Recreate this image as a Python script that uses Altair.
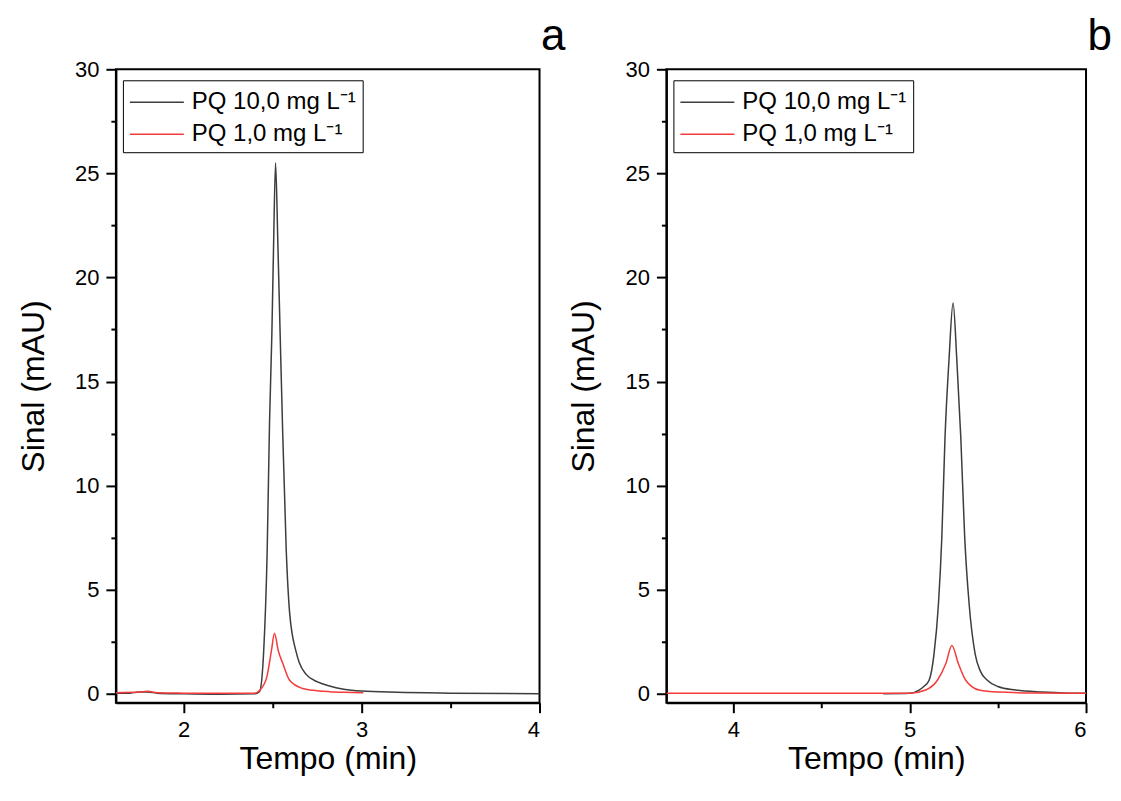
import altair as alt
import pandas as pd

series_names = ["PQ 10,0 mg L⁻¹", "PQ 1,0 mg L⁻¹"]
series_colors = ["#3d3d3d", "#f53b3b"]

# Panel a
a_black_t = [1.62, 1.70, 1.75, 1.80, 1.85, 2.00, 2.20, 2.40, 2.427, 2.45, 2.47, 2.483, 2.496, 2.506, 2.517,
             2.530, 2.543, 2.556, 2.577, 2.596, 2.633, 2.65, 2.69, 2.75, 2.82, 2.90, 3.00, 3.20, 3.50, 4.00]
a_black_s = [0.02, 0.03, 0.08, 0.08, 0.03, 0.00, -0.02, 0.00, 0.10, 2.0, 6.9, 13.0, 17.2, 21.6, 25.5,
             21.6, 17.2, 12.9, 6.9, 3.9, 2.0, 1.5, 0.92, 0.58, 0.37, 0.22, 0.13, 0.07, 0.03, 0.00]
a_red_t = [1.62, 1.75, 1.80, 1.85, 2.00, 2.20, 2.40, 2.43, 2.468, 2.494, 2.511, 2.532, 2.558, 2.596,
           2.67, 2.725, 2.82, 2.90, 3.01]
a_red_s = [0.05, 0.08, 0.12, 0.05, 0.03, 0.02, 0.02, 0.18, 0.81, 2.08, 2.91, 2.08, 1.45, 0.65,
           0.25, 0.17, 0.10, 0.07, 0.05]

# Panel b
b_black_t = [4.85, 5.00, 5.053, 5.08, 5.11, 5.138, 5.163, 5.182, 5.20, 5.223, 5.246, 5.267, 5.29, 5.312,
             5.337, 5.371, 5.40, 5.44, 5.50, 5.60, 5.75, 5.90, 6.00]
b_black_s = [0.00, 0.02, 0.18, 0.35, 0.65, 1.92, 4.31, 7.49, 12.26, 16.07, 18.77, 16.07, 12.26, 7.49,
             4.31, 1.92, 1.10, 0.65, 0.35, 0.18, 0.08, 0.03, 0.02]
b_red_t = [3.62, 4.00, 4.50, 5.00, 5.09, 5.157, 5.205, 5.239, 5.276, 5.318, 5.394, 5.50, 5.70, 6.00]
b_red_s = [0.02, 0.02, 0.02, 0.02, 0.18, 0.65, 1.45, 2.32, 1.45, 0.65, 0.18, 0.08, 0.04, 0.03]

y_domain = [-0.43, 30]
y_ticks = [0, 2.5, 5, 7.5, 10, 12.5, 15, 17.5, 20, 22.5, 25, 27.5, 30]
a_domain = [1.62, 4.0]
a_ticks = [2, 2.5, 3, 3.5, 4]
b_domain = [3.62, 6.0]
b_ticks = [4, 4.5, 5, 5.5, 6]

FONT = "Liberation Sans"


def make_df(bt, bs, rt, rs):
    d1 = pd.DataFrame({"t": bt, "s": bs, "serie": series_names[0]})
    d2 = pd.DataFrame({"t": rt, "s": rs, "serie": series_names[1]})
    return pd.concat([d1, d2], ignore_index=True)


def panel(df, xdom, xticks, tag, w):
    x_axis = alt.Axis(
        values=xticks,
        labelExpr="datum.value % 1 === 0 ? format(datum.value, 'd') : ''",
        tickSize={"condition": {"test": "datum.value % 1 !== 0", "value": 5}, "value": 10},
        labelPadding=7,
        titlePadding=3,
    )
    y_axis = alt.Axis(
        values=y_ticks,
        labelExpr="datum.value % 5 === 0 ? format(datum.value, 'd') : ''",
        tickSize={"condition": {"test": "datum.value % 5 !== 0", "value": 5}, "value": 10},
        labelPadding=7,
        titlePadding=24,
    )
    enc = dict(
        x=alt.X("t:Q", scale=alt.Scale(domain=xdom, nice=False, zero=False), axis=x_axis, title="Tempo (min)"),
        y=alt.Y("s:Q", scale=alt.Scale(domain=y_domain, nice=False, zero=False), axis=y_axis, title="Sinal (mAU)"),
        color=alt.Color(
            "serie:N",
            scale=alt.Scale(domain=series_names, range=series_colors),
            legend=alt.Legend(
                title=None,
                orient="none",
                legendX=7,
                legendY=11,
                strokeColor="black",
                fillColor="white",
                padding=6,
                labelFont=FONT,
                labelFontSize=24,
                labelColor="black",
                labelLimit=400,
                symbolType="M-1,0H2.6",
                symbolSize=900,
                symbolStrokeWidth=1.5,
                rowPadding=4,
                labelOffset=31,
            ),
        ),
    )
    base = alt.Chart(df)
    black = base.transform_filter(alt.datum.serie == series_names[0]).mark_line(
        strokeWidth=1.5, interpolate="monotone", clip=True).encode(**enc)
    red = base.transform_filter(alt.datum.serie == series_names[1]).mark_line(
        strokeWidth=1.5, interpolate="monotone", clip=True).encode(**enc)
    return alt.layer(black, red).properties(
        width=w,
        height=634,
        title=alt.TitleParams(tag, anchor="end", frame="group", dx=26, offset=-1,
                              fontSize=44, font=FONT, fontWeight="normal", color="black"),
    )


pa = panel(make_df(a_black_t, a_black_s, a_red_t, a_red_s), a_domain, a_ticks, "a", 424)
pb = panel(make_df(b_black_t, b_black_s, b_red_t, b_red_s), b_domain, b_ticks, "b", 420)

chart = (
    alt.hconcat(pa, pb, spacing=127, bounds="flush")
    .resolve_legend(color="independent")
    .properties(padding={"left": 8, "top": 6, "right": 0, "bottom": 0}, background="white")
    .configure_view(stroke="black", strokeWidth=2)
    .configure_axis(
        labelFont=FONT, titleFont=FONT, labelFontSize=22, titleFontSize=32,
        titleFontWeight="normal", labelColor="black", titleColor="black",
        domainColor="black", domainWidth=2, tickColor="black", tickWidth=2, grid=False,
    )
)

chart.save("out.html", embed_options={"renderer": "svg", "actions": False})
